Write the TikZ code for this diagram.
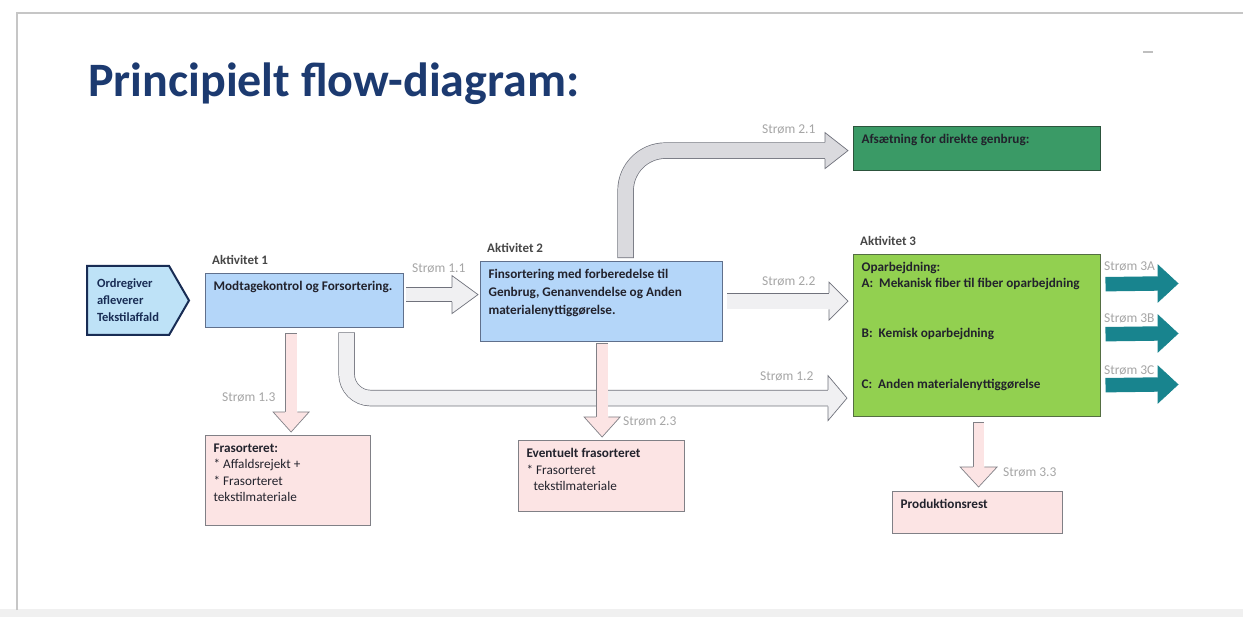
\documentclass[tikz,border=0pt]{standalone}
\usepackage{fontspec}
\setmainfont{Carlito}
\usetikzlibrary{shapes.symbols,calc}

\definecolor{titlenavy}{RGB}{28,58,112}
\definecolor{srcfill}{RGB}{190,226,247}
\definecolor{srcedge}{RGB}{24,44,84}
\definecolor{bluefill}{RGB}{180,214,249}
\definecolor{blueedge}{RGB}{96,112,140}
\definecolor{pinkfill}{RGB}{252,228,228}
\definecolor{pinkedge}{RGB}{128,128,134}
\definecolor{darkgreen}{RGB}{58,154,102}
\definecolor{darkgreenedge}{RGB}{44,84,60}
\definecolor{limegreen}{RGB}{146,208,80}
\definecolor{limeedge}{RGB}{84,110,66}
\definecolor{tealarrow}{RGB}{24,132,142}
\definecolor{pipegray}{RGB}{240,240,242}
\definecolor{pipedark}{RGB}{218,218,222}
\definecolor{pipeedge}{RGB}{112,114,124}
\definecolor{strmgray}{RGB}{166,166,166}
\definecolor{textdark}{RGB}{34,34,44}

% text block of a box: width, height, text
\newcommand{\boxtxt}[3]{\parbox[c][#2pt][t]{#1pt}{\raggedright #3}}

\tikzset{
  box/.style 2 args={fill=#1, draw=#2, line width=1.2pt, anchor=north west,
    inner xsep=8pt, inner ysep=8pt, text=textdark,
    font=\fontsize{13.2}{16}\selectfont\bfseries},
  akt/.style={font=\fontsize{13}{15}\selectfont\bfseries, text=black!72,
    inner sep=0pt, anchor=south west, xshift=7pt, yshift=8pt},
  strm/.style={font=\fontsize{13.5}{15}\selectfont, text=strmgray,
    inner sep=0pt, anchor=west},
  pipe/.style args={#1/#2/#3}{draw=#1, line width=#3, line cap=rect,
    preaction={draw=#2, line width=#3+1.4pt, line cap=rect}},
  pics/flowhead/.style args={#1/#2/#3/#4/#5}{code={
    \fill[#1] (-#3,-#4) -- (0,0) -- (-#3,#4) -- cycle;
    \draw[#2, line width=0.7pt] (-#3,-#5) -- (-#3,-#4) -- (0,0) -- (-#3,#4) -- (-#3,#5);
  }}
}

\begin{document}
\begin{tikzpicture}[x=1pt, y=-1pt]
\useasboundingbox (0,0) rectangle (1243,617);
\fill[white] (0,0) rectangle (1243,617);

% slide frame
\fill[gray!12] (0,609) rectangle (1243,617);
\draw[gray!45, line width=2pt] (17,610) -- (17,13) -- (1243,13);
\draw[gray!50, line width=1.2pt] (1143,52) -- (1153,52);

\node[anchor=base west, inner sep=0pt, font=\fontsize{48}{56}\selectfont\bfseries,
  text=titlenavy] (title) at (88,97) {Principielt flow-diagram:};

% boxes
\node[signal, signal to=east, signal pointer angle=120, draw=srcedge, line width=2pt,
  fill=srcfill, minimum width=102pt, minimum height=69pt, anchor=west, align=left,
  text=srcedge, font=\fontsize{12.5}{17}\selectfont\bfseries]
  (src) at (86,300.5) {Ordregiver\\afleverer\\Tekstilaffald};

\node[box={bluefill}{blueedge}, label={[akt]north west:Aktivitet 1}] (a1) at (205,273)
  {\boxtxt{182}{38}{\mbox{Modtagekontrol og Forsortering.}}};
\node[box={bluefill}{blueedge}, label={[akt]north west:Aktivitet 2}] (a2) at (480,261)
  {\boxtxt{226}{64}{\baselineskip=18pt Finsortering med forberedelse til\\
   Genbrug, Genanvendelse og Anden\\ materialenyttiggørelse.}};
\node[box={darkgreen}{darkgreenedge}] (afs) at (853,126)
  {\boxtxt{231}{28}{Afsætning for direkte genbrug:}};
\node[box={limegreen}{limeedge}, label={[akt]north west:Aktivitet 3}] (a3) at (853,254)
  {\boxtxt{231}{146}{\baselineskip=15.5pt Oparbejdning:\\
   A:\ \ Mekanisk fiber til fiber oparbejdning\\[35pt]
   B:\ \ Kemisk oparbejdning\\[35pt]
   C:\ \ Anden materialenyttiggørelse}};
\node[box={pinkfill}{pinkedge}] (fras) at (205,435)
  {\boxtxt{149}{74}{\baselineskip=16.5pt Frasorteret:\\
   \mdseries {*} Affaldsrejekt +\\ {*} Frasorteret\\ tekstilmateriale}};
\node[box={pinkfill}{pinkedge}] (event) at (518,440)
  {\boxtxt{150}{55}{\baselineskip=16.5pt Eventuelt frasorteret\\
   \mdseries {*} Frasorteret\\ \hspace*{7pt}tekstilmateriale}};
\node[box={pinkfill}{pinkedge}] (prod) at (892,491)
  {\boxtxt{154}{26}{Produktionsrest}};

% free ends of the outgoing streams
\coordinate (out3a) at (1178,283.5);
\coordinate (out3b) at (1178,333.5);
\coordinate (out3c) at (1178,384.5);

% grey streams
\draw[pipe=pipegray/pipeedge/13] ($(a1.east)+(8.5,-6)$) -- ($(a2.west)+(-28,-7)$);
\pic at ($(a2.west)+(-2,-7)$) {flowhead=pipegray/pipeedge/26/19/7.2};

\draw[pipe=pipegray/pipeedge/15] ($(a2.east)+(11.5,-0.5)$) -- ($(a3.west |- a2.east)+(-24,-0.5)$);
\pic at ($(a3.west |- a2.east)+(-5,-0.5)$) {flowhead=pipegray/pipeedge/19/19/8.2};

\draw[pipe=pipedark/pipeedge/15, rounded corners=40pt] ($(a2.north)+(24,-11)$)
  |- ($(afs.west)+(-28,2)$);
\pic at ($(afs.west)+(-5,2)$) {flowhead=pipedark/pipeedge/23/18/8.2};

\draw[pipe=pipegray/pipeedge/15, rounded corners=24pt] ($(a1.south)+(42,12.5)$)
  |- ($(a3.west)+(-25,62.5)$);
\pic at ($(a3.west)+(-6,62.5)$) {flowhead=pipegray/pipeedge/19/22.5/8.2};

% pink streams
\draw[pipe=pinkfill/pinkedge/11] ($(a1.south)+(-13.5,11)$) -- ($(fras.north)+(3,-23)$);
\pic[rotate=-90] at ($(fras.north)+(3,-3)$) {flowhead=pinkfill/pinkedge/20/18/6.2};

\draw[pipe=pinkfill/pinkedge/11] ($(a2.south)+(0.5,7)$) -- ($(event.north)+(0.5,-23)$);
\pic[rotate=-90] at ($(event.north)+(0.5,-3)$) {flowhead=pinkfill/pinkedge/20/18/6.2};

\draw[pipe=pinkfill/pinkedge/10] ($(a3.south)+(1.5,11)$) -- ($(prod.north)+(1,-24)$);
\pic[rotate=-90] at ($(prod.north)+(1,-4)$) {flowhead=pinkfill/pinkedge/20/18.5/5.7};

% teal streams
\draw[pipe=tealarrow/tealarrow/13] ($(a3.east)+(11.5,-51.5)$) -- ($(out3a)+(-20,0)$);
\pic at (out3a) {flowhead=tealarrow/tealarrow/20/18.5/7.2};
\draw[pipe=tealarrow/tealarrow/13] ($(a3.east)+(11.5,-1.5)$) -- ($(out3b)+(-20,0)$);
\pic at (out3b) {flowhead=tealarrow/tealarrow/20/18.5/7.2};
\draw[pipe=tealarrow/tealarrow/13] ($(a3.east)+(11.5,49.5)$) -- ($(out3c)+(-20,0)$);
\pic at (out3c) {flowhead=tealarrow/tealarrow/20/18.5/7.2};

% stream labels
\node[strm] (l11) at (412,268) {Strøm 1.1};
\node[strm] (l21) at (762,129) {Strøm 2.1};
\node[strm] (l22) at (762,281) {Strøm 2.2};
\node[strm] (l12) at (760,376) {Strøm 1.2};
\node[strm] (l13) at (222,397) {Strøm 1.3};
\node[strm] (l23) at (623,421) {Strøm 2.3};
\node[strm] (l33) at (1003,472) {Strøm 3.3};
\node[strm] (l3a) at (1104,266) {Strøm 3A};
\node[strm] (l3b) at (1104,318) {Strøm 3B};
\node[strm] (l3c) at (1104,370) {Strøm 3C};

\end{tikzpicture}
\end{document}
